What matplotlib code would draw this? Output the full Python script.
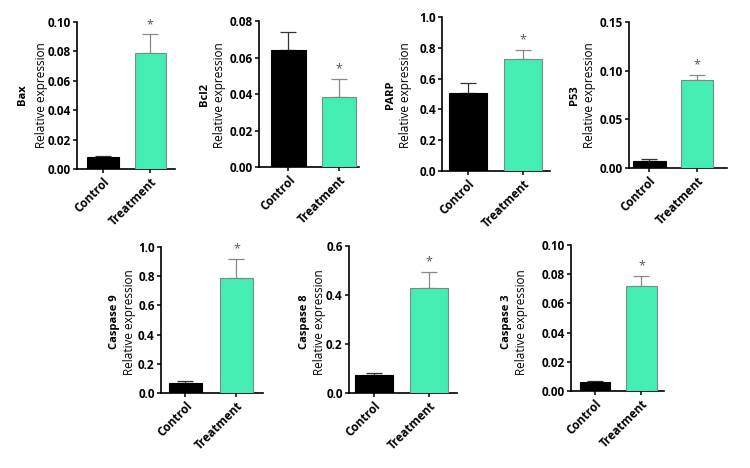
import matplotlib
matplotlib.use("Agg")
import matplotlib.pyplot as plt

plt.rcParams['font.family'] = ['Open Sans', 'DejaVu Sans']

categories = ["Control", "Treatment"]
genes = ["Bax", "Bcl2", "PARP", "P53", "Caspase 9", "Caspase 8", "Caspase 3"]
control_vals = [0.008, 0.064, 0.505, 0.007, 0.070, 0.075, 0.006]
control_err = [0.001, 0.010, 0.065, 0.002, 0.010, 0.007, 0.001]
treat_vals = [0.079, 0.0385, 0.725, 0.090, 0.790, 0.428, 0.072]
treat_err = [0.0125, 0.0095, 0.060, 0.006, 0.125, 0.064, 0.0065]
ymax = [0.10, 0.08, 1.0, 0.15, 1.0, 0.6, 0.10]
ystep = [0.02, 0.02, 0.2, 0.05, 0.2, 0.2, 0.02]
yfmt = ["{:.2f}", "{:.2f}", "{:.1f}", "{:.2f}", "{:.1f}", "{:.1f}", "{:.2f}"]

# axes boxes in pixels: left, right, top, bottom
boxes = [(77, 175, 22, 169), (259, 359, 21, 167), (442, 550, 17, 171), (629, 727, 22, 168),
         (161, 263, 247, 393), (349, 457, 246, 393), (571, 664, 245, 391)]
# label positions (gene x, RE x, center y)
labpos = [(23, 41, 95), (204, 220, 95), (391, 405, 95), (574, 589, 95),
          (114, 130, 322), (305, 319, 322), (506, 522, 322)]
xlims = [(-0.553, 1.53), (-0.584, 1.396), (-0.473, 1.49), (-0.43, 1.63),
         (-0.48, 1.52), (-0.455, 1.51), (-0.516, 1.486)]
widths = [0.66, 0.69, 0.69, 0.69, 0.65, 0.69, 0.66]

W, H = 750, 468
fig = plt.figure(figsize=(W / 100, H / 100), dpi=100)
teal = "#44EEB2"
for i, g in enumerate(genes):
    l, r, t, b = boxes[i]
    ax = fig.add_axes([l / W, 1 - b / H, (r - l) / W, (b - t) / H])
    x = [0, 1]
    ax.bar(0, control_vals[i], width=widths[i], color="black", edgecolor="black", linewidth=0.8, zorder=3)
    ax.bar(1, treat_vals[i], width=widths[i], color=teal, edgecolor="#7a8a84", linewidth=0.8, zorder=3)
    ax.errorbar(0, control_vals[i], yerr=[[0], [control_err[i]]], fmt="none", ecolor="#333333",
                elinewidth=0.9, capsize=6, capthick=0.9, zorder=2)
    ax.errorbar(1, treat_vals[i], yerr=[[0], [treat_err[i]]], fmt="none", ecolor="#888888",
                elinewidth=0.9, capsize=6, capthick=0.9, zorder=2)
    ax.text(1, treat_vals[i] + treat_err[i] + ymax[i] * 0.025, "*", ha="center", va="bottom",
            fontsize=9, color="#555555")
    ax.set_ylim(0, ymax[i])
    ax.set_xlim(*xlims[i])
    ticks = [k * ystep[i] for k in range(int(round(ymax[i] / ystep[i])) + 1)]
    ax.set_yticks(ticks)
    ax.set_yticklabels([yfmt[i].format(v) for v in ticks], fontsize=8.5, fontweight="bold")
    ax.set_xticks(x)
    ax.set_xticklabels(categories, rotation=45, ha="right", rotation_mode="anchor",
                       fontsize=8.5, fontweight="bold")
    for s in ["top", "right"]:
        ax.spines[s].set_visible(False)
    for s in ["left", "bottom"]:
        ax.spines[s].set_linewidth(1.2)
    ax.tick_params(axis="both", length=3, width=1.1, pad=1.5)
    gx, rx, cy = labpos[i]
    fig.text(gx / W, 1 - cy / H, g, rotation=90, ha="center", va="center",
             fontsize=8, fontweight="bold")
    fig.text(rx / W, 1 - cy / H, "Relative expression", rotation=90, ha="center", va="center",
             fontsize=8.5)

fig.savefig("out.png", dpi=100)
